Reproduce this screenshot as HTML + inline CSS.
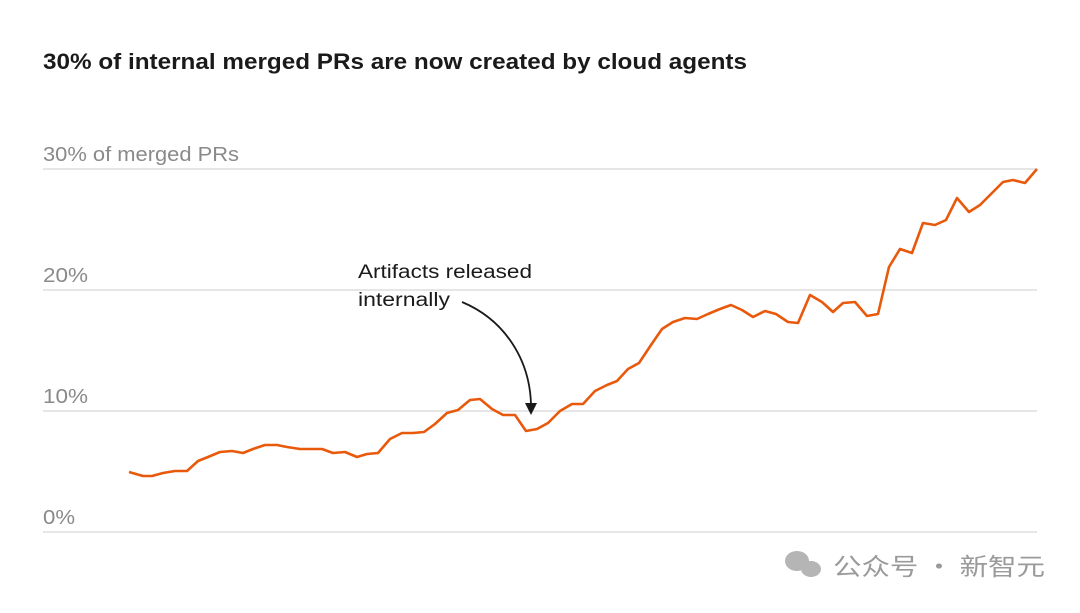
<!DOCTYPE html>
<html><head><meta charset="utf-8"><style>
body{margin:0;background:#fff;width:1080px;height:608px;overflow:hidden;font-family:"Liberation Sans","Noto Sans CJK SC",sans-serif}
</style></head><body>
<svg width="1080" height="608" xmlns="http://www.w3.org/2000/svg">
<text x="43" y="69" font-size="22.5" font-weight="bold" fill="#1a1a1a" font-family="Liberation Sans, sans-serif" textLength="704" lengthAdjust="spacingAndGlyphs">30% of internal merged PRs are now created by cloud agents</text>
<g stroke="#d6d6d6" stroke-width="1.2">
<line x1="43" y1="169" x2="1037" y2="169"/><line x1="43" y1="290" x2="1037" y2="290"/>
<line x1="43" y1="411" x2="1037" y2="411"/><line x1="43" y1="532" x2="1037" y2="532"/>
</g>
<g font-size="20" fill="#8a8a8a" font-family="Liberation Sans, sans-serif">
<text x="43" y="161" textLength="196" lengthAdjust="spacingAndGlyphs">30% of merged PRs</text>
<text x="43" y="282" textLength="45" lengthAdjust="spacingAndGlyphs">20%</text>
<text x="43" y="403" textLength="45" lengthAdjust="spacingAndGlyphs">10%</text>
<text x="43" y="524" textLength="32" lengthAdjust="spacingAndGlyphs">0%</text>
</g>
<g font-size="19" fill="#1a1a1a" font-family="Liberation Sans, sans-serif">
<text x="358" y="278" textLength="174" lengthAdjust="spacingAndGlyphs">Artifacts released</text>
<text x="358" y="306" textLength="92" lengthAdjust="spacingAndGlyphs">internally</text>
</g>
<path d="M462,302 C505,320 530,360 531,405" fill="none" stroke="#1a1a1a" stroke-width="1.8"/>
<polygon points="525,403 537,403 531,415" fill="#1a1a1a"/>
<polyline fill="none" stroke="#e8590c" stroke-width="2.6" stroke-linejoin="round" points="129,472 143,476 152,476 163,473 175,471 187,471 198,461 208,457 220,452 232,451 243,453 253,449 265,445 277,445 287,447 300,449 310,449 322,449 333,453 345,452 357,457 367,454 378,453 390,439 402,433 413,433 424,432 435,424 447,413 458,410 470,400 480,399 492,409 503,415 515,415 526,431 537,429 548,423 560,411 572,404 583,404 595,391 607,385 617,381 628,369 639,363 651,345 662,329 673,322 685,318 697,319 708,314 720,309 731,305 742,310 753,317 765,311 776,314 788,322 798,323 810,295 822,302 833,312 843,303 855,302 867,316 878,314 889,267 900,249 912,253 923,223 935,225 946,220 957,198 969,212 980,205 992,193 1003,182 1013,180 1025,183 1037,169"/>
<g fill="#b5b5b5"><ellipse cx="797" cy="561" rx="12" ry="10"/><ellipse cx="811" cy="569" rx="10" ry="8"/></g>
<text x="833" y="575" font-size="24" fill="#9a9a9a" font-family="Noto Sans CJK SC, sans-serif" textLength="212" lengthAdjust="spacingAndGlyphs">公众号 · 新智元</text>
</svg>
</body></html>
